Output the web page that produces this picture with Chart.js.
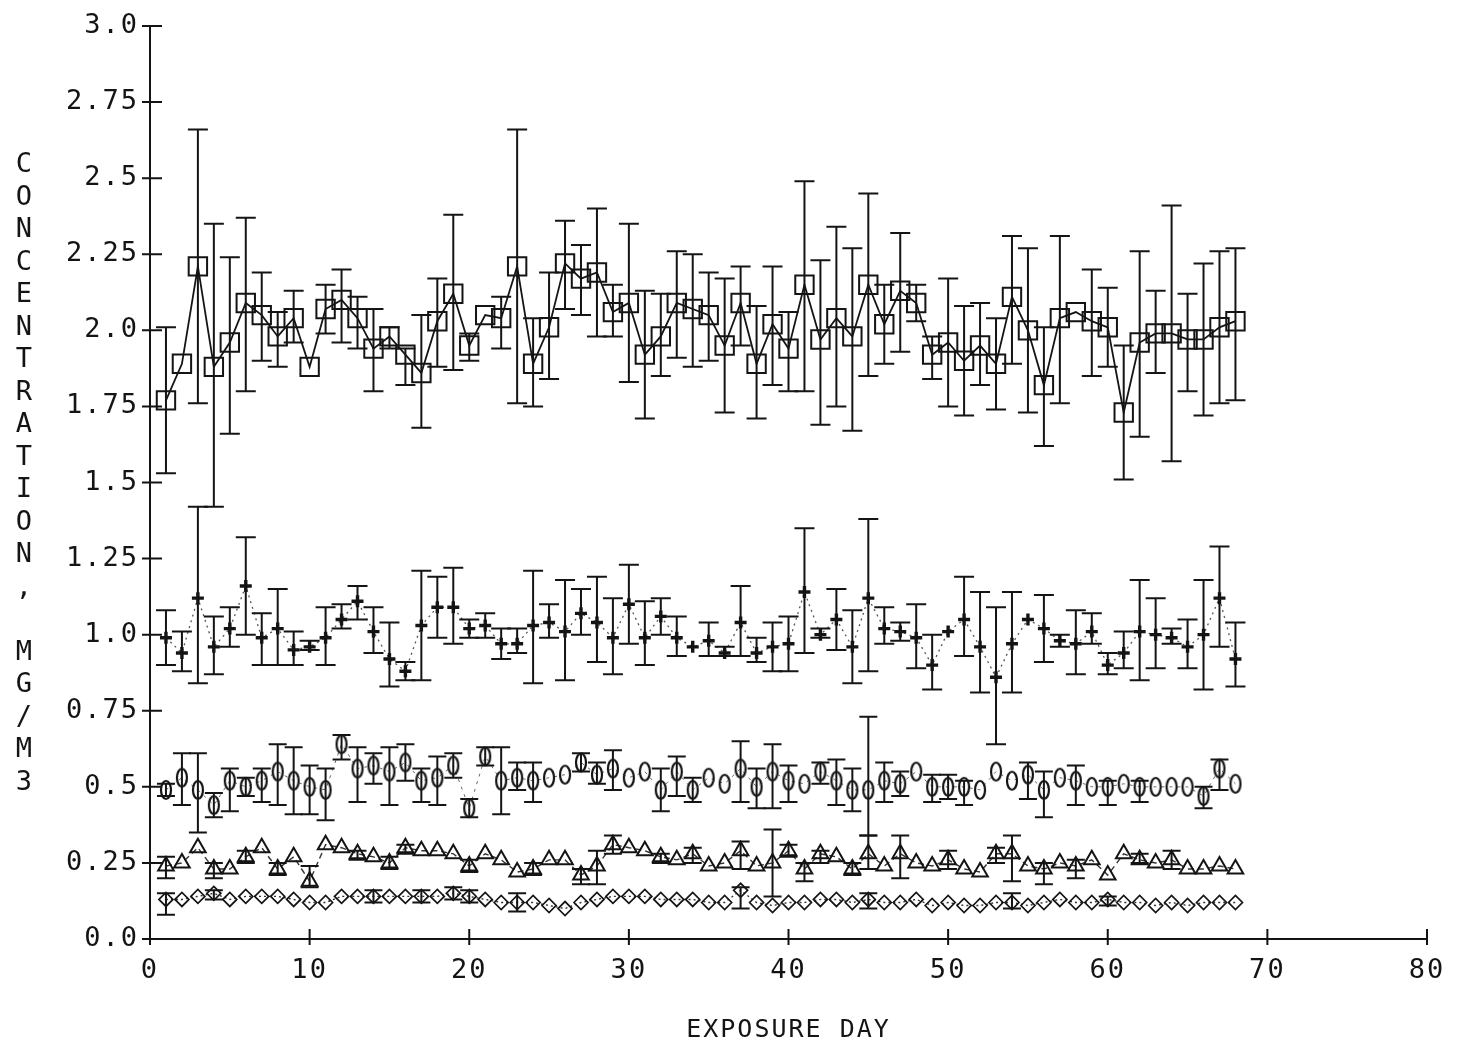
<!DOCTYPE html>
<html>
<head>
<meta charset="utf-8">
<script src="https://cdn.jsdelivr.net/npm/chart.js@4.4.1/dist/chart.umd.min.js"></script>
<style>
  body { margin: 0; background: #fff; }
  #wrap { width: 1457px; height: 1045px; position: relative; }
</style>
</head>
<body>
<div id="wrap"><canvas id="chart"></canvas></div>
<script>
const days = [];
for (let d = 1; d <= 68; d++) days.push(d);

const yTickLabels = ["0.0", "0.25", "0.5", "0.75", "1.0", "1.25", "1.5", "1.75", "2.0", "2.25", "2.5", "2.75", "3.0"];
const yTitle = "CONCENTRATION, MG/M3";
const xTitle = "EXPOSURE DAY";

// squares, top group
const sqMean = [1.77, 1.89, 2.21, 1.88, 1.96, 2.09, 2.05, 1.98, 2.04, 1.88, 2.07, 2.10, 2.04, 1.94, 1.98, 1.92, 1.86, 2.03, 2.12, 1.95,
    2.05, 2.04, 2.21, 1.89, 2.01, 2.22, 2.17, 2.19, 2.06, 2.09, 1.92, 1.98, 2.09, 2.07, 2.05, 1.95, 2.09, 1.89, 2.02, 1.94,
    2.15, 1.97, 2.04, 1.98, 2.15, 2.02, 2.13, 2.09, 1.92, 1.96, 1.90, 1.95, 1.89, 2.11, 2.00, 1.82, 2.04, 2.06, 2.03, 2.01,
    1.73, 1.96, 1.99, 1.99, 1.97, 1.97, 2.01, 2.03];
const sqHi = [2.01, null, 2.66, 2.35, 2.24, 2.37, 2.19, 2.06, 2.13, null, 2.15, 2.20, 2.11, 2.07, 2.01, 1.94, 2.05, 2.17, 2.38, 1.99,
    null, 2.11, 2.66, 2.04, 2.19, 2.36, 2.28, 2.40, 2.15, 2.35, 2.13, 2.12, 2.26, 2.25, 2.19, 2.17, 2.21, 2.08, 2.21, 2.06,
    2.49, 2.23, 2.34, 2.27, 2.45, 2.15, 2.32, 2.15, 1.98, 2.17, 2.08, 2.09, 2.04, 2.31, 2.27, 2.01, 2.31, null, 2.20, 2.14,
    1.95, 2.26, 2.13, 2.41, 2.12, 2.22, 2.26, 2.27];
const sqLo = [1.53, null, 1.76, 1.42, 1.66, 1.80, 1.90, 1.88, 1.96, null, 1.99, 1.96, 1.94, 1.80, 1.94, 1.82, 1.68, 1.88, 1.87, 1.90,
    null, 1.94, 1.76, 1.75, 1.84, 2.07, 2.05, 1.98, 1.98, 1.83, 1.71, 1.85, 1.91, 1.88, 1.90, 1.73, 1.95, 1.71, 1.82, 1.80,
    1.80, 1.69, 1.75, 1.67, 1.85, 1.89, 1.93, 2.03, 1.84, 1.75, 1.72, 1.82, 1.74, 1.89, 1.73, 1.62, 1.76, null, 1.85, 1.88,
    1.51, 1.65, 1.86, 1.57, 1.80, 1.72, 1.76, 1.77];

// plus markers, ~1.0
const plMean = [0.99, 0.94, 1.12, 0.96, 1.02, 1.16, 0.99, 1.02, 0.95, 0.96, 0.99, 1.05, 1.11, 1.01, 0.92, 0.88, 1.03, 1.09, 1.09, 1.02,
    1.03, 0.97, 0.97, 1.03, 1.04, 1.01, 1.07, 1.04, 0.99, 1.10, 0.99, 1.06, 0.99, 0.96, 0.98, 0.94, 1.04, 0.94, 0.96, 0.97,
    1.14, 1.00, 1.05, 0.96, 1.12, 1.02, 1.01, 0.99, 0.90, 1.01, 1.05, 0.96, 0.86, 0.97, 1.05, 1.02, 0.98, 0.97, 1.01, 0.90,
    0.94, 1.01, 1.00, 0.99, 0.96, 1.00, 1.12, 0.92];
const plHi = [1.08, 1.01, 1.42, 1.06, 1.09, 1.32, 1.07, 1.15, 1.01, 0.98, 1.09, 1.10, 1.16, 1.09, 1.04, 0.91, 1.21, 1.19, 1.22, 1.05,
    1.07, 1.02, 1.02, 1.21, 1.10, 1.18, 1.15, 1.19, 1.12, 1.23, 1.11, 1.12, 1.06, null, 1.04, 0.96, 1.16, 0.99, 1.04, 1.06,
    1.35, 1.02, 1.15, 1.08, 1.38, 1.09, 1.04, 1.10, 1.00, null, 1.19, 1.14, 1.09, 1.14, null, 1.13, 1.00, 1.08, 1.07, 0.94,
    1.01, 1.18, 1.12, 1.02, 1.05, 1.18, 1.29, 1.04];
const plLo = [0.90, 0.88, 0.84, 0.87, 0.96, 1.00, 0.90, 0.90, 0.90, 0.95, 0.90, 1.02, 1.05, 0.94, 0.83, 0.85, 0.85, 0.99, 0.97, 0.99,
    0.99, 0.92, 0.94, 0.84, 0.99, 0.85, 1.00, 0.91, 0.87, 0.97, 0.90, 1.00, 0.93, null, 0.93, 0.93, 0.93, 0.91, 0.88, 0.88,
    0.94, 0.99, 0.95, 0.84, 0.88, 0.97, 0.98, 0.89, 0.82, null, 0.93, 0.81, 0.64, 0.81, null, 0.91, 0.96, 0.87, 0.97, 0.87,
    0.89, 0.85, 0.89, 0.97, 0.89, 0.82, 0.96, 0.83];

// oval "0" markers, ~0.5
const ovMean = [0.49, 0.53, 0.49, 0.44, 0.52, 0.50, 0.52, 0.55, 0.52, 0.50, 0.49, 0.64, 0.56, 0.57, 0.55, 0.58, 0.52, 0.53, 0.57, 0.43,
    0.60, 0.52, 0.53, 0.52, 0.53, 0.54, 0.58, 0.54, 0.56, 0.53, 0.55, 0.49, 0.55, 0.49, 0.53, 0.51, 0.56, 0.50, 0.55, 0.52,
    0.51, 0.55, 0.52, 0.49, 0.49, 0.52, 0.51, 0.55, 0.50, 0.50, 0.50, 0.49, 0.55, 0.52, 0.54, 0.49, 0.53, 0.52, 0.50, 0.50,
    0.51, 0.50, 0.50, 0.50, 0.50, 0.47, 0.56, 0.51];
const ovHi = [0.51, 0.61, 0.61, 0.48, 0.56, 0.53, 0.56, 0.64, 0.63, 0.57, 0.56, 0.67, 0.63, 0.61, 0.63, 0.64, 0.56, 0.60, 0.61, 0.46,
    0.63, 0.63, 0.58, 0.58, null, null, 0.61, 0.58, 0.62, null, null, 0.56, 0.60, 0.53, null, null, 0.65, 0.56, 0.64, 0.57,
    null, 0.58, 0.59, 0.56, 0.73, 0.58, 0.55, null, 0.54, 0.54, 0.52, null, null, null, 0.58, 0.55, null, 0.57, null, 0.52,
    null, 0.52, null, null, null, 0.50, 0.59, null];
const ovLo = [0.47, 0.44, 0.35, 0.40, 0.42, 0.47, 0.45, 0.44, 0.41, 0.41, 0.39, 0.59, 0.45, 0.51, 0.44, 0.52, 0.45, 0.44, 0.53, 0.40,
    0.57, 0.41, 0.49, 0.45, null, null, 0.55, 0.51, 0.49, null, null, 0.42, 0.47, 0.45, null, null, 0.45, 0.43, 0.43, 0.45,
    null, 0.51, 0.44, 0.42, 0.34, 0.45, 0.47, null, 0.45, 0.46, 0.44, null, null, null, 0.46, 0.40, null, 0.44, null, 0.44,
    null, 0.45, null, null, null, 0.43, 0.49, null];

// triangles, ~0.25
const trMean = [0.24, 0.25, 0.30, 0.23, 0.23, 0.27, 0.30, 0.23, 0.27, 0.19, 0.31, 0.30, 0.28, 0.27, 0.25, 0.30, 0.29, 0.29, 0.28, 0.24,
    0.28, 0.26, 0.22, 0.23, 0.26, 0.26, 0.21, 0.24, 0.31, 0.30, 0.29, 0.27, 0.26, 0.28, 0.24, 0.25, 0.29, 0.24, 0.25, 0.29,
    0.23, 0.28, 0.27, 0.23, 0.28, 0.24, 0.28, 0.25, 0.24, 0.26, 0.23, 0.22, 0.28, 0.28, 0.24, 0.23, 0.25, 0.24, 0.26, 0.21,
    0.28, 0.26, 0.25, 0.26, 0.23, 0.23, 0.24, 0.23];
const trHi = [0.27, null, null, 0.25, null, 0.29, null, 0.25, null, 0.24, null, null, 0.29, null, 0.27, 0.31, null, null, null, 0.26,
    null, null, null, 0.25, null, null, 0.23, 0.29, 0.34, null, null, 0.28, null, 0.30, null, null, 0.32, null, 0.36, 0.31,
    0.25, 0.29, null, 0.25, 0.34, null, 0.34, null, null, 0.29, null, null, 0.30, 0.34, null, 0.25, null, 0.26, null, null,
    null, 0.28, null, 0.29, null, null, null, null];
const trLo = [0.20, null, null, 0.20, null, 0.25, null, 0.21, null, 0.17, null, null, 0.26, null, 0.23, 0.28, null, null, null, 0.22,
    null, null, null, 0.21, null, null, 0.18, 0.18, 0.28, null, null, 0.25, null, 0.25, null, null, 0.23, null, 0.14, 0.27,
    0.19, 0.25, null, 0.21, 0.23, null, 0.20, null, null, 0.23, null, null, 0.25, 0.19, null, 0.18, null, 0.20, null, null,
    null, 0.25, null, 0.23, null, null, null, null];

// diamonds, ~0.12
const dmMean = [0.13, 0.13, 0.14, 0.15, 0.13, 0.14, 0.14, 0.14, 0.13, 0.12, 0.12, 0.14, 0.14, 0.14, 0.14, 0.14, 0.14, 0.14, 0.15, 0.14,
    0.13, 0.12, 0.12, 0.12, 0.11, 0.10, 0.12, 0.13, 0.14, 0.14, 0.14, 0.13, 0.13, 0.13, 0.12, 0.12, 0.16, 0.12, 0.11, 0.12,
    0.12, 0.13, 0.13, 0.12, 0.13, 0.12, 0.12, 0.13, 0.11, 0.12, 0.11, 0.11, 0.12, 0.12, 0.11, 0.12, 0.13, 0.12, 0.12, 0.13,
    0.12, 0.12, 0.11, 0.12, 0.11, 0.12, 0.12, 0.12];
const dmHi = [0.15, null, null, 0.16, null, null, null, null, null, null, null, null, null, 0.16, null, null, 0.16, null, 0.17, 0.16,
    null, null, 0.15, null, null, null, null, null, null, null, null, null, null, null, null, null, 0.17, null, null, null,
    null, null, null, null, 0.15, null, null, null, null, null, null, null, null, 0.15, null, null, null, null, null, 0.14,
    null, null, null, null, null, null, null, null];
const dmLo = [0.08, null, null, 0.13, null, null, null, null, null, null, null, null, null, 0.12, null, null, 0.12, null, 0.13, 0.12,
    null, null, 0.09, null, null, null, null, null, null, null, null, null, null, null, null, null, 0.10, null, null, null,
    null, null, null, null, 0.10, null, null, null, null, null, null, null, null, 0.10, null, null, null, null, null, 0.11,
    null, null, null, null, null, null, null, null];

const ink = '#141414';

function points(values) {
    let out = [];
    for (let i = 0; i < days.length; i++)
        out.push({ x: days[i], y: values[i] });
    return out;
}

function makeOval() {
    let c = document.createElement('canvas');
    c.width = 14;
    c.height = 22;
    let g = c.getContext('2d');
    g.strokeStyle = ink;
    g.lineWidth = 2.2;
    g.beginPath();
    g.ellipse(7, 11, 5, 9, 0, 0, 2 * Math.PI);
    g.stroke();
    return c;
}

function setSpacing(chart) {
    chart.ctx.letterSpacing = '2px';
}

const errorBars = {
    id: 'errorBars',
    afterDatasetsDraw(chart) {
        const ctx = chart.ctx;
        const xs = chart.scales.x, ys = chart.scales.y;
        chart.data.datasets.forEach(ds => {
            if (!ds.hi) return;
            ctx.save();
            ctx.strokeStyle = ink;
            ctx.lineWidth = 2;
            for (let i = 0; i < ds.data.length; i++) {
                if (ds.hi[i] == null) continue;
                let x = xs.getPixelForValue(ds.data[i].x);
                let top = ys.getPixelForValue(ds.hi[i]);
                let bot = ys.getPixelForValue(ds.lo[i]);
                let cap = ds.cap;
                ctx.beginPath();
                ctx.moveTo(x, top); ctx.lineTo(x, bot);
                ctx.moveTo(x - cap, top); ctx.lineTo(x + cap, top);
                ctx.moveTo(x - cap, bot); ctx.lineTo(x + cap, bot);
                ctx.stroke();
            }
            ctx.restore();
        });
    }
};

// tick marks cross the axes, and the y title is stacked letter by letter
const axisExtras = {
    id: 'axisExtras',
    beforeLayout: setSpacing,
    beforeDraw: setSpacing,
    afterDraw(chart) {
        const ctx = chart.ctx;
        const xs = chart.scales.x, ys = chart.scales.y;
        const area = chart.chartArea;
        ctx.save();
        ctx.strokeStyle = ink;
        ctx.lineWidth = 2;
        ctx.beginPath();
        ys.ticks.forEach(t => {
            let y = ys.getPixelForValue(t.value);
            ctx.moveTo(area.left - 8, y);
            ctx.lineTo(area.left + 12, y);
        });
        xs.ticks.forEach(t => {
            let x = xs.getPixelForValue(t.value);
            ctx.moveTo(x, area.bottom + 6);
            ctx.lineTo(x, area.bottom - 10);
        });
        ctx.stroke();

        ctx.fillStyle = ink;
        ctx.font = '27px "DejaVu Sans Mono"';
        ctx.textAlign = 'center';
        ctx.textBaseline = 'middle';
        ctx.letterSpacing = '0px';
        for (let i = 0; i < yTitle.length; i++)
            ctx.fillText(yTitle[i], 24, 165 + i * 32.5);
        ctx.restore();
    }
};

const data = {
    datasets: [{
            label: 'squares',
            data: points(sqMean),
            hi: sqHi, lo: sqLo, cap: 10,
            showLine: true,
            borderColor: ink,
            borderWidth: 1.8,
            pointStyle: 'rect',
            pointRadius: 13,
            pointBorderWidth: 2,
            pointBackgroundColor: 'rgba(0,0,0,0)',
            pointBorderColor: ink
        }, {
            label: 'plus',
            data: points(plMean),
            hi: plHi, lo: plLo, cap: 10,
            showLine: true,
            borderColor: '#555',
            borderWidth: 1.3,
            borderDash: [2, 4],
            pointStyle: 'cross',
            pointRadius: 6,
            pointBorderWidth: 3.4,
            pointBorderColor: ink
        }, {
            label: 'ovals',
            data: points(ovMean),
            hi: ovHi, lo: ovLo, cap: 9,
            showLine: true,
            borderColor: '#666',
            borderWidth: 1,
            borderDash: [3, 5],
            pointStyle: makeOval(),
            pointRadius: 9
        }, {
            label: 'triangles',
            data: points(trMean),
            hi: trHi, lo: trLo, cap: 9,
            showLine: true,
            borderColor: '#333',
            borderWidth: 1.4,
            borderDash: [6, 4],
            pointStyle: 'triangle',
            pointRadius: 9,
            pointBorderWidth: 2,
            pointBackgroundColor: 'rgba(0,0,0,0)',
            pointBorderColor: ink
        }, {
            label: 'diamonds',
            data: points(dmMean),
            hi: dmHi, lo: dmLo, cap: 9,
            showLine: true,
            borderColor: '#333',
            borderWidth: 1.4,
            borderDash: [2, 3],
            pointStyle: 'rectRot',
            pointRadius: 7,
            pointBorderWidth: 1.7,
            pointBackgroundColor: 'rgba(0,0,0,0)',
            pointBorderColor: ink
        }]
};

const config = {
    type: 'scatter',
    data: data,
    options: {
        responsive: true,
        maintainAspectRatio: false,
        animation: false,
        layout: { padding: { left: 0, right: 30, top: 26, bottom: 0 } },
        plugins: {
            legend: { display: false },
            tooltip: { enabled: false }
        },
        scales: {
            x: {
                type: 'linear',
                min: 0,
                max: 80,
                afterFit(scale) { scale.height = 106; },
                grid: { display: false },
                border: { display: true, color: ink, width: 2 },
                ticks: {
                    stepSize: 10,
                    padding: 8,
                    color: ink,
                    font: { family: 'DejaVu Sans Mono', size: 27 }
                },
                title: {
                    display: true,
                    text: xTitle,
                    color: ink,
                    padding: { top: 0, bottom: 0 },
                    font: { family: 'DejaVu Sans Mono', size: 25 }
                }
            },
            y: {
                type: 'linear',
                min: 0,
                max: 3,
                afterFit(scale) { scale.width = 150; },
                grid: { display: false },
                border: { display: true, color: ink, width: 2 },
                ticks: {
                    stepSize: 0.25,
                    padding: 3,
                    color: ink,
                    font: { family: 'DejaVu Sans Mono', size: 27 },
                    callback: v => yTickLabels[Math.round(v / 0.25)]
                }
            }
        }
    },
    plugins: [errorBars, axisExtras]
};

let ctx = document.getElementById('chart').getContext('2d');
new Chart(ctx, config);
</script>
</body>
</html>
